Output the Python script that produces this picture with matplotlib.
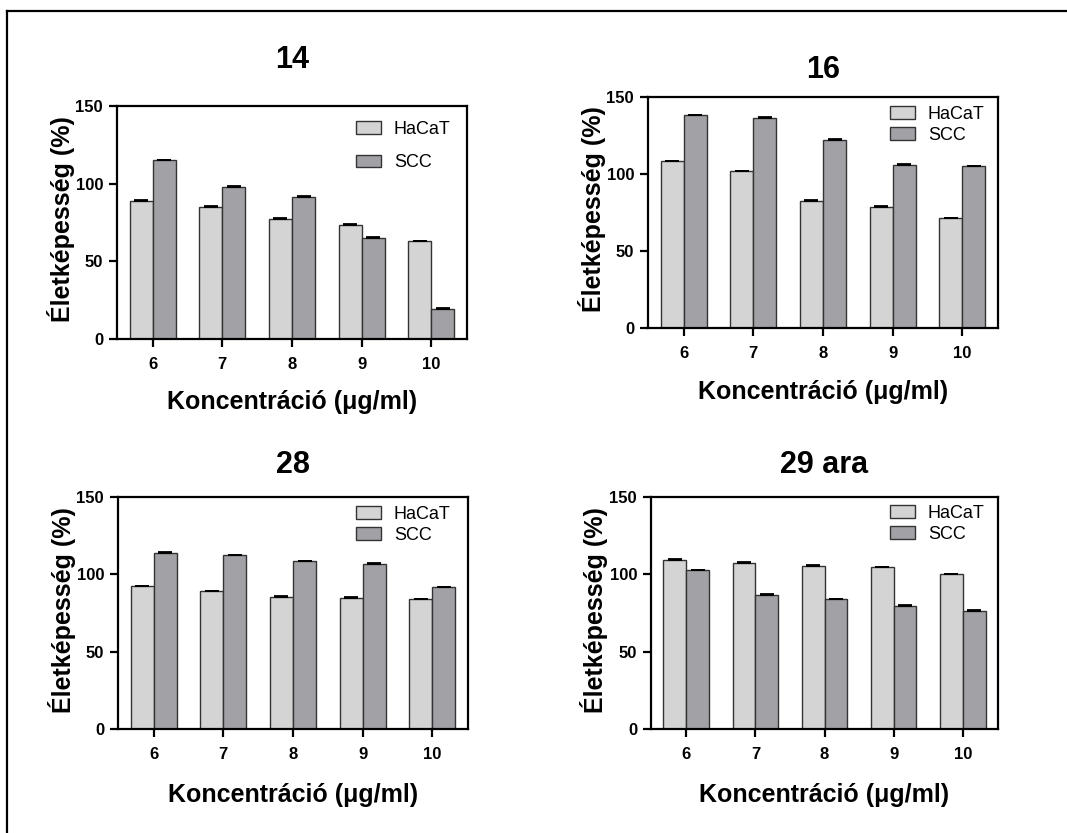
import matplotlib
matplotlib.use("Agg")
import matplotlib.pyplot as plt
from matplotlib.lines import Line2D
import numpy as np

plt.rcParams['font.family'] = ['Liberation Sans', 'DejaVu Sans']

W, H = 1067, 833
DPI = 100

concentrations = ["6", "7", "8", "9", "10"]
series_names = ["HaCaT", "SCC"]
panel_titles = ["14", "16", "28", "29 ara"]

hacat_14 = [89, 85, 77.5, 73.5, 63]
scc_14 = [115, 98, 91.5, 65, 19.5]
hacat_16 = [108.5, 102, 82.5, 78.5, 71.5]
scc_16 = [138, 136.5, 122, 106, 105]
hacat_28 = [92.5, 89, 85.5, 84.5, 84]
scc_28 = [114, 112.5, 108.5, 107, 91.5]
hacat_29 = [109.5, 107.5, 105.5, 104.5, 100]
scc_29 = [102.5, 86.5, 84, 79.5, 76.5]

hacat_err_14 = [0.6, 0.4, 0.6, 0.7, 0.2]
scc_err_14 = [0.5, 0.4, 0.6, 0.4, 0.2]
hacat_err_16 = [0.2, 0.2, 0.5, 0.5, 0.2]
scc_err_16 = [0.2, 0.6, 0.6, 0.2, 0.2]
hacat_err_28 = [0.2, 0.2, 0.3, 0.6, 0.2]
scc_err_28 = [0.2, 0.2, 0.3, 0.3, 0.6]
hacat_err_29 = [0.2, 0.5, 0.3, 0.2, 0.2]
scc_err_29 = [0.6, 0.6, 0.2, 0.6, 0.2]

y_ticks = [0, 50, 100, 150]
xlabel = "Koncentráció (μg/ml)"
ylabel = "Életképesség (%)"

HACAT_COLOR = "#d4d4d4"
SCC_COLOR = "#a2a1a6"
EDGE = "#333333"

panels = [
    # (values, errors, axes box px (l, r, t, b), title y, ylabel x, xlabel y, legend spacing, legend anchor px)
    (hacat_14, scc_14, hacat_err_14, scc_err_14, (117, 467, 106, 339), 60, 61, 402, 0.9, (356, 121)),
    (hacat_16, scc_16, hacat_err_16, scc_err_16, (648, 998, 97, 328), 70, 592, 392, 0.22, (890, 106)),
    (hacat_28, scc_28, hacat_err_28, scc_err_28, (118, 468, 497, 729), 465, 62, 795, 0.22, (356, 506)),
    (hacat_29, scc_29, hacat_err_29, scc_err_29, (651, 998, 497, 729), 465, 594, 795, 0.22, (890, 505)),
]

fig = plt.figure(figsize=(W / DPI, H / DPI), dpi=DPI)

def fx(x):
    return x / W

def fy(y):
    return 1 - y / H

# outer frame (top and left edges)
fig.add_artist(Line2D([fx(7), fx(7)], [fy(11), 0], transform=fig.transFigure, color="black", lw=1.6))
fig.add_artist(Line2D([fx(7), 1], [fy(11), fy(11)], transform=fig.transFigure, color="black", lw=1.6))

x = np.arange(len(concentrations))
bw = 0.33

for (h, s, he, se, (l, r, t, b), ty, ylx, xly, lsp, lpos), title in zip(panels, panel_titles):
    ax = fig.add_axes([fx(l), fy(b), (r - l) / W, (b - t) / H])
    ax.bar(x - bw / 2, h, bw, color=HACAT_COLOR, edgecolor=EDGE, linewidth=1.0,
           yerr=[np.zeros(len(h)), he], capsize=5,
           error_kw=dict(elinewidth=1.3, capthick=1.3, ecolor="black"), label=series_names[0])
    ax.bar(x + bw / 2, s, bw, color=SCC_COLOR, edgecolor=EDGE, linewidth=1.0,
           yerr=[np.zeros(len(s)), se], capsize=5,
           error_kw=dict(elinewidth=1.3, capthick=1.3, ecolor="black"), label=series_names[1])
    ax.set_xlim(-0.51, 4.51)
    ax.set_ylim(0, 150)
    ax.set_yticks(y_ticks)
    ax.set_xticks(x)
    ax.set_xticklabels(concentrations)
    for sp in ax.spines.values():
        sp.set_linewidth(1.6)
    ax.tick_params(axis="both", direction="out", length=6, width=1.6, labelsize=12, pad=4)
    for lab in ax.get_xticklabels() + ax.get_yticklabels():
        lab.set_fontweight("bold")
    ax.tick_params(axis="x", pad=7)

    fig.text(fx((l + r) / 2), fy(ty), title, ha="center", va="center",
             fontsize=22, fontweight="bold")
    fig.text(fx(ylx), fy((t + b) / 2 - 3), ylabel, ha="center", va="center",
             rotation=90, fontsize=18, fontweight="bold")
    fig.text(fx((l + r) / 2), fy(xly), xlabel, ha="center", va="center",
             fontsize=18, fontweight="bold")

    ax.legend(loc="upper left", bbox_to_anchor=(fx(lpos[0]), fy(lpos[1])),
              bbox_transform=fig.transFigure, frameon=False, fontsize=13,
              handlelength=1.4, handleheight=0.7, handletextpad=0.7,
              labelspacing=lsp, borderpad=0, borderaxespad=0)

fig.savefig("out.png", dpi=DPI)
